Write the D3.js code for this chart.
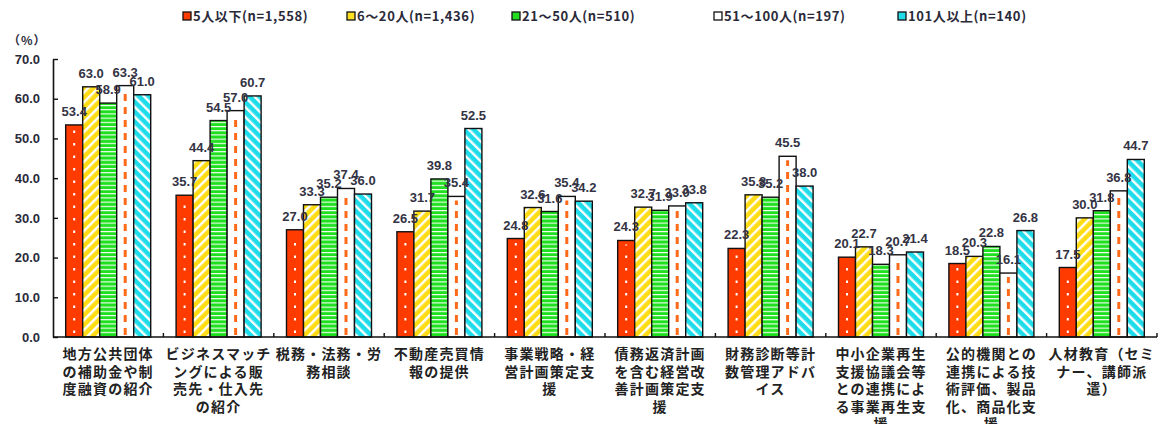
<!DOCTYPE html>
<html>
<head>
<meta charset="utf-8">
<script src="https://cdn.jsdelivr.net/npm/d3@7"></script>
<style>
  html, body { margin: 0; padding: 0; background: #fff; }
  svg { display: block; }
  text { font-family: "Liberation Sans", Arial, "Noto Sans CJK JP", sans-serif; }
  .jp { font-family: "Noto Sans CJK JP", sans-serif; }
</style>
</head>
<body>
<svg id="chart" width="1161" height="424"></svg>
<script>
// Category labels (pre-wrapped lines)
const categories = [
  ["地方公共団体", "の補助金や制", "度融資の紹介"],
  ["ビジネスマッチ", "ングによる販", "売先・仕入先", "の紹介"],
  ["税務・法務・労", "務相談"],
  ["不動産売買情", "報の提供"],
  ["事業戦略・経", "営計画策定支", "援"],
  ["債務返済計画", "を含む経営改", "善計画策定支", "援"],
  ["財務診断等計", "数管理アドバ", "イス"],
  ["中小企業再生", "支援協議会等", "との連携によ", "る事業再生支", "援"],
  ["公的機関との", "連携による技", "術評価、製品", "化、商品化支", "援"],
  ["人材教育（セミ", "ナー、講師派", "遣）"]
];

const seriesNames = [
  "5人以下(n=1,558)",
  "6～20人(n=1,436)",
  "21～50人(n=510)",
  "51～100人(n=197)",
  "101人以上(n=140)"
];

const s5 =    [53.4, 35.7, 27.0, 26.5, 24.8, 24.3, 22.3, 20.1, 18.5, 17.5];
const s6_20 = [63.0, 44.4, 33.3, 31.7, 32.6, 32.7, 35.8, 22.7, 20.3, 30.0];
const s21_50 = [58.9, 54.5, 35.2, 39.8, 31.6, 31.9, 35.2, 18.3, 22.8, 31.8];
const s51_100 = [63.3, 57.0, 37.4, 35.4, 35.4, 33.0, 45.5, 20.7, 16.1, 36.8];
const s101 =  [61.0, 60.7, 36.0, 52.5, 34.2, 33.8, 38.0, 21.4, 26.8, 44.7];
const seriesValues = [s5, s6_20, s21_50, s51_100, s101];

const yTicks = [0, 10, 20, 30, 40, 50, 60, 70];

const fills = ["#ff3b00", "url(#pYellow)", "url(#pGreen)", "#ffffff", "url(#pCyan)"];
const legendFills = ["#ff3b00", "#ffe020", "#22dd22", "#ffffff", "#22dde8"];
const legendX = [183, 347, 512, 714, 898];

const svg = d3.select("#chart");
const defs = svg.append("defs");

// Yellow with white "/" stripes
const py = defs.append("pattern").attr("id", "pYellow").attr("patternUnits", "userSpaceOnUse")
  .attr("width", 7).attr("height", 7).attr("patternTransform", "rotate(45)");
py.append("rect").attr("width", 7).attr("height", 7).attr("fill", "#ffdc14");
py.append("rect").attr("x", 0).attr("width", 2.4).attr("height", 7).attr("fill", "#ffffff");

// Cyan with white "\" stripes
const pc = defs.append("pattern").attr("id", "pCyan").attr("patternUnits", "userSpaceOnUse")
  .attr("width", 7).attr("height", 7).attr("patternTransform", "rotate(-45)");
pc.append("rect").attr("width", 7).attr("height", 7).attr("fill", "#1fdcea");
pc.append("rect").attr("x", 0).attr("width", 2.4).attr("height", 7).attr("fill", "#ffffff");

// Green with white horizontal lines
const pg = defs.append("pattern").attr("id", "pGreen").attr("patternUnits", "userSpaceOnUse")
  .attr("width", 8).attr("height", 4.2);
pg.append("rect").attr("width", 8).attr("height", 4.2).attr("fill", "#1fe01f");
pg.append("rect").attr("y", 0).attr("width", 8).attr("height", 1.1).attr("fill", "#ffffff");

const x0 = d3.scaleBand().domain(d3.range(categories.length)).range([53, 1157])
  .paddingInner(0.23).paddingOuter(0.115);
const x1 = d3.scaleBand().domain(d3.range(seriesNames.length)).range([0, x0.bandwidth()]);
const y = d3.scaleLinear().domain([0, 70]).range([337, 59]);

// Bars
const groups = svg.append("g").selectAll("g").data(categories).join("g")
  .attr("transform", (d, i) => `translate(${x0(i)},0)`);

groups.each(function (d, ci) {
  const g = d3.select(this);
  seriesValues.forEach((vals, si) => {
    const v = vals[ci];
    const bx = x1(si), bw = x1.bandwidth();
    g.append("rect")
      .attr("x", bx).attr("y", y(v))
      .attr("width", bw).attr("height", y(0) - y(v))
      .attr("fill", fills[si])
      .attr("stroke", "#111").attr("stroke-width", 1.4);
    if (si === 0) {
      g.append("line")
        .attr("x1", bx + bw / 2).attr("x2", bx + bw / 2)
        .attr("y1", y(0) - 4).attr("y2", y(v) + 4)
        .attr("stroke", "#ffffff").attr("stroke-width", 2)
        .attr("stroke-dasharray", "2.5 10");
    }
    if (si === 3) {
      g.append("line")
        .attr("x1", bx + bw / 2).attr("x2", bx + bw / 2)
        .attr("y1", y(0) - 2).attr("y2", y(v) + 4)
        .attr("stroke", "#ff6a1a").attr("stroke-width", 3)
        .attr("stroke-dasharray", "7 6");
    }
  });
});

// Value labels
groups.each(function (d, ci) {
  const g = d3.select(this);
  seriesValues.forEach((vals, si) => {
    const v = vals[ci];
    g.append("text")
      .attr("x", x1(si) + x1.bandwidth() / 2)
      .attr("y", y(v) - 9)
      .attr("text-anchor", "middle")
      .attr("font-size", 13).attr("font-weight", "bold")
      .attr("fill", "#333344")
      .text(v.toFixed(1));
  });
});

// Y axis
const yAxis = d3.axisLeft(y).tickValues(yTicks).tickFormat(d3.format(".1f")).tickSizeInner(-5).tickSizeOuter(0);
const ya = svg.append("g").attr("transform", "translate(53,0)").call(yAxis);
ya.select(".domain").attr("stroke", "#111").attr("stroke-width", 1.6);
ya.selectAll(".tick line").attr("stroke", "#111").attr("stroke-width", 1.4);
ya.selectAll(".tick text").attr("x", -13).attr("font-size", 13).attr("font-weight", "bold")
  .attr("fill", "#2a2a3a").attr("font-family", "'Liberation Sans', Arial, sans-serif");

// X axis baseline with group separators
svg.append("line").attr("x1", 53).attr("x2", 1157).attr("y1", y(0)).attr("y2", y(0))
  .attr("stroke", "#111").attr("stroke-width", 1.6);
svg.append("g").selectAll("line").data(d3.range(1, categories.length + 1)).join("line")
  .attr("x1", i => x0(i - 1) - x0.step() * x0.paddingOuter() + x0.step())
  .attr("x2", i => x0(i - 1) - x0.step() * x0.paddingOuter() + x0.step())
  .attr("y1", y(0)).attr("y2", y(0) - 4)
  .attr("stroke", "#111").attr("stroke-width", 1.4);

// Category labels
const labels = svg.append("g");
categories.forEach((lines, ci) => {
  const cx = x0(ci) + x0.bandwidth() / 2;
  lines.forEach((ln, li) => {
    labels.append("text")
      .attr("class", "jp")
      .attr("x", cx).attr("y", 359 + li * 17.5)
      .attr("text-anchor", "middle")
      .attr("font-size", 14).attr("font-weight", "bold")
      .attr("letter-spacing", 1.2)
      .attr("fill", "#222")
      .text(ln);
  });
});

// Unit label
svg.append("text").attr("class", "jp").attr("x", 8).attr("y", 45)
  .attr("font-size", 12).attr("font-weight", "bold").attr("letter-spacing", 1)
  .attr("fill", "#2a2a3a").text("（%）");

// Legend
const lg = svg.append("g");
seriesNames.forEach((name, si) => {
  lg.append("rect").attr("x", legendX[si]).attr("y", 12).attr("width", 8).attr("height", 8)
    .attr("fill", legendFills[si]).attr("stroke", "#111").attr("stroke-width", 1.3);
  lg.append("text").attr("class", "jp").attr("x", legendX[si] + 10).attr("y", 21)
    .attr("font-size", 13).attr("font-weight", "bold").attr("letter-spacing", 0.6)
    .attr("fill", "#2a2a3a").text(name);
});
</script>
</body>
</html>
